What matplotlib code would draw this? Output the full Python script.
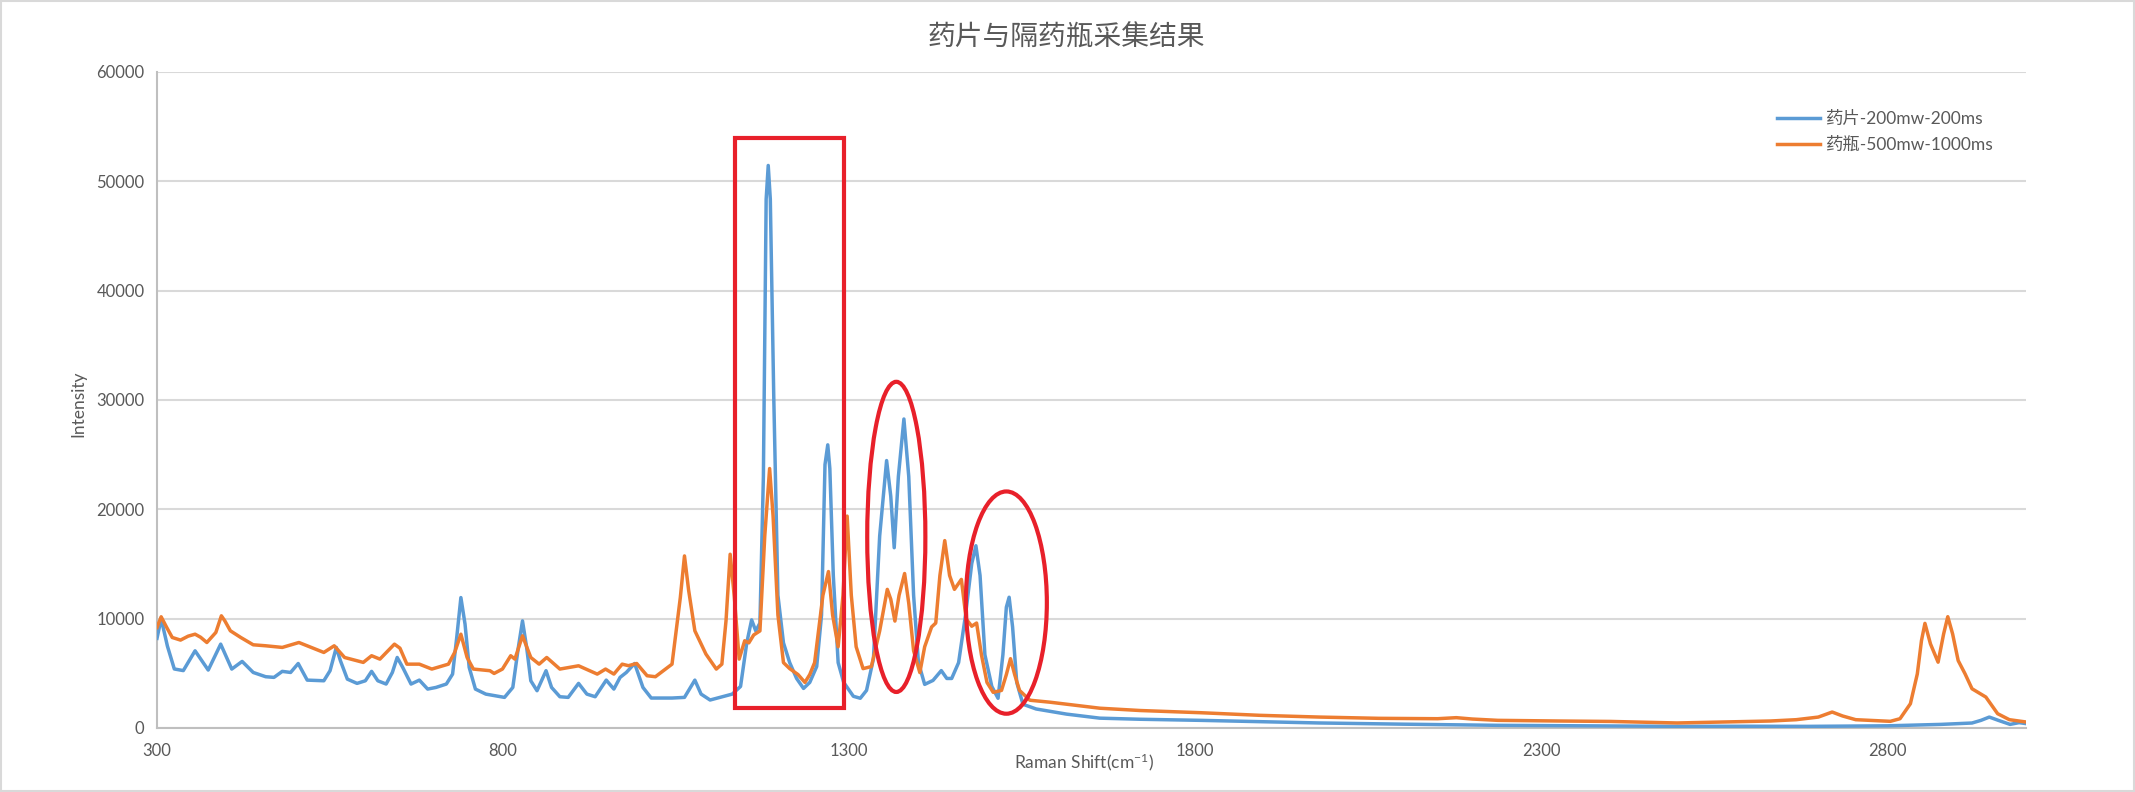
import matplotlib
matplotlib.use("Agg")
import matplotlib.pyplot as plt
from matplotlib.patches import Rectangle, Ellipse

plt.rcParams['font.family'] = ['Lato', 'Noto Sans CJK SC', 'DejaVu Sans']
plt.rcParams['mathtext.fontset'] = 'custom'
plt.rcParams['mathtext.rm'] = 'Lato'
plt.rcParams['mathtext.it'] = 'Lato'

# Raman spectra: tablet measured directly, and tablet measured through the vial
tablet_shift = [300, 306, 315, 325, 338, 355, 374, 392, 408, 423,
                439, 457, 469, 481, 493, 504, 517, 541, 550, 559,
                565, 575, 589, 601, 610, 619, 631, 640, 647, 655,
                667, 679, 691, 703, 718, 727, 733, 739, 745, 751,
                760, 775, 802, 814, 822, 828, 834, 840, 849, 862,
                870, 882, 894, 909, 921, 933, 949, 960, 969, 978,
                990, 1002, 1014, 1044, 1062, 1077, 1086, 1099, 1131, 1143,
                1152, 1159, 1165, 1171, 1176, 1180, 1183, 1186, 1191, 1197,
                1205, 1214, 1224, 1234, 1243, 1253, 1260, 1265, 1269, 1272,
                1277, 1284, 1292, 1306, 1316, 1325, 1335, 1344, 1354, 1360,
                1365, 1371, 1379, 1386, 1393, 1400, 1409, 1421, 1433, 1441,
                1448, 1458, 1468, 1477, 1483, 1489, 1496, 1506, 1515, 1522,
                1527, 1531, 1536, 1542, 1551, 1570, 1614, 1662, 1720, 1807,
                1893, 1979, 2100, 2237, 2400, 2496, 2600, 2685, 2800, 2877,
                2922, 2935, 2947, 2960, 2977, 2990, 3000]
tablet_intensity = [8200, 10000, 7500, 5400, 5250, 7060, 5300, 7670, 5390, 6090,
                    5080, 4690, 4630, 5180, 5080, 5900, 4380, 4320, 5240, 7370,
                    6150, 4470, 4080, 4320, 5180, 4320, 4020, 5080, 6450, 5540,
                    4020, 4380, 3560, 3710, 4020, 4930, 8280, 11930, 9500, 5540,
                    3560, 3100, 2800, 3710, 7370, 9800, 7370, 4320, 3410, 5240,
                    3710, 2860, 2800, 4080, 3100, 2860, 4380, 3560, 4630, 5080,
                    5900, 3710, 2740, 2740, 2800, 4380, 3100, 2560, 3100, 3800,
                    7790, 9890, 8880, 9600, 23000, 48370, 51450, 48370, 30250, 12140,
                    7790, 5980, 4530, 3620, 4170, 5620, 10330, 24090, 25900, 23730,
                    13950, 5980, 4170, 2900, 2720, 3440, 6340, 17570, 24460, 21200,
                    16490, 23000, 28260, 23000, 12140, 5980, 3990, 4350, 5250, 4530,
                    4530, 5980, 10330, 15040, 16670, 13950, 6700, 3800, 2720, 6700,
                    11050, 11960, 9240, 4170, 2170, 1740, 1270, 900, 800, 700,
                    580, 460, 350, 245, 190, 150, 160, 150, 200, 330,
                    456, 700, 1000, 700, 330, 490, 400]

vial_shift = [300, 306, 314, 322, 334, 345, 355, 363, 372, 385,
              393, 398, 406, 421, 439, 457, 481, 505, 529, 541,
              556, 571, 598, 610, 622, 643, 651, 661, 679, 697,
              721, 730, 739, 748, 757, 781, 787, 799, 811, 817,
              828, 840, 852, 863, 882, 909, 936, 948, 960, 972,
              981, 993, 1008, 1020, 1044, 1056, 1062, 1068, 1077, 1093,
              1108, 1116, 1122, 1128, 1134, 1141, 1149, 1155, 1162, 1171,
              1178, 1185, 1190, 1197, 1205, 1214, 1226, 1236, 1243, 1250,
              1262, 1270, 1276, 1284, 1291, 1297, 1303, 1310, 1320, 1332,
              1344, 1355, 1360, 1366, 1372, 1380, 1386, 1393, 1402, 1409,
              1419, 1425, 1431, 1438, 1445, 1452, 1462, 1469, 1477, 1484,
              1491, 1499, 1508, 1520, 1527, 1533, 1539, 1546, 1561, 1590,
              1662, 1720, 1807, 1893, 1979, 2065, 2150, 2177, 2200, 2237,
              2324, 2400, 2496, 2583, 2631, 2668, 2700, 2720, 2735, 2754,
              2804, 2818, 2833, 2843, 2849, 2854, 2862, 2873, 2881, 2887,
              2894, 2902, 2912, 2922, 2942, 2959, 2976, 3000]
vial_intensity = [9190, 10170, 9200, 8280, 8040, 8400, 8580, 8300, 7820, 8740,
                  10260, 9800, 8890, 8280, 7610, 7520, 7370, 7820, 7210, 6910,
                  7520, 6450, 6000, 6610, 6300, 7670, 7300, 5840, 5840, 5390,
                  5840, 6910, 8580, 6450, 5390, 5240, 4990, 5390, 6610, 6300,
                  8430, 6450, 5840, 6450, 5390, 5690, 4930, 5390, 4930, 5840,
                  5700, 5900, 4780, 4690, 5840, 11930, 15740, 12600, 8890, 6760,
                  5390, 5840, 9800, 15890, 12000, 6300, 7980, 7790, 8510, 8880,
                  17570, 23730, 19380, 10330, 5980, 5430, 4890, 4170, 4890, 5980,
                  12140, 14310, 10330, 7430, 12140, 19380, 12140, 7430, 5430, 5620,
                  8880, 12680, 11780, 9780, 12140, 14130, 11410, 7070, 5070, 7430,
                  9240, 9600, 13950, 17140, 13950, 12680, 13590, 9960, 9310, 9600,
                  6700, 4170, 3260, 3440, 4890, 6340, 4890, 3440, 2540, 2360,
                  1810, 1600, 1400, 1160, 1000, 885, 850, 945, 820, 700,
                  640, 600, 460, 580, 640, 760, 1000, 1460, 1100, 760,
                  610, 850, 2220, 4950, 7990, 9570, 7690, 6020, 8600, 10180,
                  8600, 6170, 4950, 3590, 2830, 1310, 760, 550]

series_labels = ['药片-200mw-200ms', '药瓶-500mw-1000ms']
x_ticks = [300, 800, 1300, 1800, 2300, 2800]
y_ticks = [0, 10000, 20000, 30000, 40000, 50000, 60000]

title_text = '药片与隔药瓶采集结果'
x_label = r'Raman Shift(cm$^{\mathregular{-1}}$)'
y_label = 'Intensity'

BLUE = '#5B9BD5'
ORANGE = '#ED7D31'
RED = '#E8202A'
TEXT = '#595959'
GRID = '#D9D9D9'

W, H = 2135, 792
fig = plt.figure(figsize=(W / 100, H / 100), dpi=100)
ax = fig.add_axes([157 / W, 1 - 728 / H, (2026 - 157) / W, (728 - 72) / H])

ax.plot(tablet_shift, tablet_intensity, color=BLUE, lw=2.5,
        solid_joinstyle='round', label=series_labels[0], zorder=3)
ax.plot(vial_shift, vial_intensity, color=ORANGE, lw=2.5,
        solid_joinstyle='round', label=series_labels[1], zorder=4)

ax.set_xlim(300, 3000)
ax.set_ylim(0, 60000)
ax.set_xticks(x_ticks)
ax.set_yticks(y_ticks)
ax.tick_params(axis='both', length=0, labelsize=12, labelcolor=TEXT)
ax.tick_params(axis='x', pad=11)
ax.tick_params(axis='y', pad=9)
ax.yaxis.grid(True, color=GRID, lw=1.5)
ax.set_axisbelow(True)
for side in ('top', 'right'):
    ax.spines[side].set_visible(False)
for side in ('left', 'bottom'):
    ax.spines[side].set_color('#BFBFBF')
    ax.spines[side].set_linewidth(1.5)

ax.set_xlabel(x_label, fontsize=12.5, color=TEXT)
ax.xaxis.set_label_coords(0.496, -0.052)
ax.xaxis.label.set_va('center')
ax.set_ylabel(y_label, fontsize=12.5, color=TEXT)
ax.yaxis.set_label_coords(-0.042, 0.495)
ax.yaxis.label.set_va('center')

# highlighted bands
ax.add_patch(Rectangle((1135, 1810), 1292 - 1135, 53990 - 1810, fill=False,
                       edgecolor=RED, lw=3, zorder=6))
ax.add_patch(Ellipse((1368, 17480), 84, 28370, fill=False,
                     edgecolor=RED, lw=3, zorder=6))
ax.add_patch(Ellipse((1527, 11470), 117, 20330, fill=False,
                     edgecolor=RED, lw=3, zorder=6))

ax.legend(loc='upper left', bbox_to_anchor=(1777 / W, 1 - 111 / H),
          bbox_transform=fig.transFigure, frameon=False, borderpad=0,
          borderaxespad=0, handlelength=2.5, handletextpad=0.35,
          labelspacing=0.55, fontsize=12.5, labelcolor=TEXT)

fig.text(1066 / W, 1 - 38 / H, title_text, ha='center', va='center',
         fontsize=20, color=TEXT, family=['Noto Sans CJK SC', 'DejaVu Sans'])

fig.patches.append(Rectangle((1 / W, 1 / H), 1 - 2 / W, 1 - 2 / H,
                             transform=fig.transFigure, fill=False,
                             edgecolor=GRID, lw=1.5))

fig.savefig('out.png', dpi=100)
